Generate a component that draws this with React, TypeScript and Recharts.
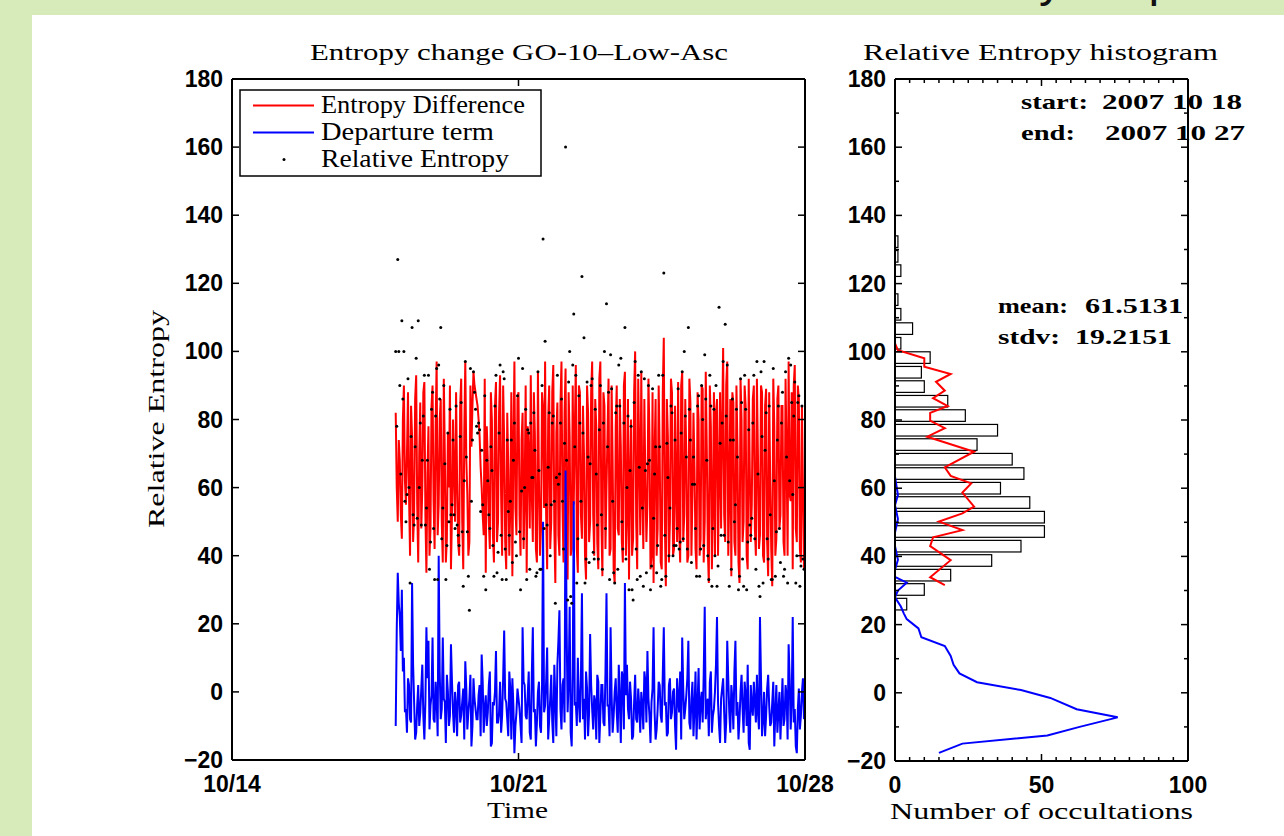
import React from "react";
import { ComposedChart, Line, Scatter, Bar, XAxis, YAxis } from "recharts";

// occultations from 10/18 (day 4 after 10/14), even cadence;
// the "A" arrays hold the samples on the full step, the "B" arrays the ones half a step later
const START_DAY = 4;
const STEP_DAY = 0.05;

const entropyDiffA = [
  82, 50, 68, 45, 90, 55, 88, 40, 75, 52,
  93, 38, 85, 60, 91, 35, 78, 48, 90, 42,
  97, 55, 86, 38, 70, 45, 60, 36, 80, 50,
  62, 40, 92, 36, 97, 58, 44, 72, 94, 88,
  84, 75, 60, 46, 35, 68, 42, 80, 38, 91,
  50, 93, 40, 74, 36, 66, 55, 34, 97, 46,
  88, 40, 82, 58, 35, 70, 93, 44, 76, 38,
  62, 48, 83, 97, 36, 90, 50, 96, 32, 85,
  40, 97, 38, 95, 33, 75, 42, 55, 96, 35,
  88, 45, 70, 33, 82, 50, 97, 40, 78, 36,
  97, 34, 84, 60, 92, 42, 68, 32, 90, 46,
  72, 38, 94, 52, 33, 80, 45, 100, 36, 70,
  94, 42, 62, 55, 75, 40, 32, 86, 48, 70,
  36, 104, 31, 75, 50, 88, 42, 60, 91, 38,
  94, 52, 70, 40, 85, 58, 66, 36, 80, 45,
  89, 50, 72, 32, 78, 55, 40, 86, 62, 48,
  101, 44, 97, 58, 34, 85, 40, 72, 32, 80,
  50, 84, 36, 66, 55, 90, 40, 70, 46, 88,
  38, 89, 34, 62, 31, 78, 45, 90, 52, 84,
  40, 70, 97, 56, 36, 96, 44, 86, 38, 60,
];
const entropyDiffB = [
  60, 74, 52, 80, 62, 70, 58, 84, 44, 86,
  55, 70, 48, 88, 52, 64, 40, 84, 56, 78,
  46, 80, 50, 92, 38, 76, 90, 52, 64, 88,
  44, 84, 50, 76, 68, 40, 90, 84, 90, 86,
  80, 66, 52, 92, 78, 50, 88, 46, 84, 44,
  82, 58, 90, 44, 82, 40, 88, 72, 54, 86,
  52, 74, 42, 90, 78, 48, 58, 88, 42, 94,
  40, 88, 54, 52, 80, 42, 88, 48, 76, 46,
  84, 54, 82, 48, 88, 40, 90, 76, 42, 90,
  52, 84, 40, 90, 44, 88, 52, 86, 44, 92,
  50, 88, 42, 76, 40, 90, 36, 78, 48, 86,
  44, 90, 40, 86, 62, 40, 88, 50, 92, 46,
  58, 86, 44, 92, 36, 88, 70, 40, 90, 38,
  88, 50, 86, 38, 92, 40, 84, 44, 48, 90,
  44, 86, 38, 92, 40, 82, 42, 88, 40, 90,
  38, 94, 42, 90, 36, 88, 82, 40, 88, 78,
  52, 90, 40, 86, 88, 44, 90, 38, 92, 44,
  90, 40, 92, 44, 86, 48, 92, 42, 90, 40,
  84, 44, 88, 42, 92, 40, 86, 48, 84, 44,
  92, 40, 58, 88, 90, 48, 90, 42, 84, 36,
];

const departureA = [
  -10, 35, 22, 30, 10, -5, 4, -8, 32, -3,
  -12, 2, -6, 8, -14, 19, 15, -4, 16, -9,
  -2, 40, -8, 16, -3, 5, -10, 14, -6, 0,
  -13, 3, -7, 1, 9, -11, -2, -16, 4, -5,
  -8, 2, 11, -12, -1, -6, 6, -15, -4, 12,
  -9, 3, -7, 18, -3, -13, 1, 4, -18, -6,
  -2, -10, 19, 2, -8, 6, -14, 19, -5, -9,
  3, -12, 50, -4, 13, -8, 5, -15, -2, 8,
  24, -11, 4, 65, -6, 25, -16, 56, -3, 10,
  -9, 29, -2, 6, -13, 17, -5, -1, -14, 3,
  -7, 2, -10, 29, -4, 19, -12, 0, -6, 8,
  -15, 4, 32, 8, -8, -2, -13, 5, -9, -4,
  0, -11, 3, 12, -7, -3, 19, -14, -5, 2,
  -9, 19, -3, -12, 4, -6, 1, -17, -2, 6,
  16, -8, -1, 15, -11, 3, -5, -14, 7, -3,
  -9, 25, -4, -13, 6, -7, 0, 22, -10, -2,
  4, -15, 15, -6, 2, -11, 15, -3, -8, 5,
  -12, -1, 8, -17, -4, 3, -9, -6, 22, -13,
  0, -7, 5, -10, -3, -16, 2, -6, -14, 4,
  -8, -1, 14, -11, 22, -5, -18, 1, -7, 4,
];
const departureB = [
  18, 26, 12, 6, -6, -12, 2, -9, 8, -14,
  -4, -10, 1, -7, -3, 4, -11, -1, -8, 3,
  -13, 6, -5, -2, -15, 0, -7, 3, -12, -4,
  2, -9, -3, -14, 1, -6, 5, -10, -2, -8,
  -1, -13, 3, -5, -10, 2, -16, -3, 0, -9,
  -6, -12, 4, -2, -8, 6, -14, -4, -10, 1,
  -5, -15, 3, -7, -1, -12, 5, -6, -16, 0,
  -10, 2, -6, 3, -14, -2, -9, 8, -13, 15,
  -5, 2, -9, 20, 3, -12, 6, -4, -10, -3,
  4, -8, -14, 1, -6, 2, -11, -3, 5, -15,
  2, -9, 6, -4, -13, -1, -7, 4, -12, -2,
  6, -11, -1, -5, 3, -14, -3, -8, 1, -12,
  -4, 6, -9, -2, -15, 1, -6, -11, 3, -7,
  5, -4, -13, 2, -8, 0, -10, 4, -6, -14,
  1, -5, 4, -9, -2, -13, 6, -4, -11, 0,
  5, -8, -2, 3, -12, -5, 8, -3, -15, 1,
  -6, -9, 4, -12, -2, 6, -7, -14, 0, -5,
  3, -10, -15, 2, -7, -3, 5, -11, 4, -8,
  -13, 1, -4, -9, 3, -6, -12, 0, -5, -10,
  2, -14, 4, -3, -9, -16, -5, -11, 0, -8,
];

const relEntropyA = [
  100, 127, 90, 109, 100, 50, 92, 32, 107, 49,
  98, 109, 79, 68, 93, 54, 93, 44, 88, 33,
  95, 96, 107, 54, 67, 43, 50, 52, 74, 48,
  49, 43, 85, 31, 97, 47, 24, 56, 94, 83,
  76, 77, 71, 34, 30, 62, 48, 65, 34, 93,
  41, 96, 33, 92, 33, 53, 56, 38, 79, 40,
  98, 30, 95, 60, 33, 76, 79, 63, 71, 35,
  65, 36, 133, 103, 49, 82, 55, 81, 26, 93,
  64, 86, 42, 160, 27, 100, 26, 111, 93, 45,
  79, 122, 104, 39, 69, 67, 92, 39, 64, 39,
  90, 36, 100, 114, 88, 99, 56, 32, 84, 96,
  98, 42, 107, 60, 30, 78, 27, 97, 33, 66,
  94, 31, 65, 67, 68, 37, 51, 72, 43, 72,
  33, 123, 34, 63, 54, 82, 43, 43, 89, 44,
  94, 100, 69, 107, 74, 61, 61, 34, 87, 42,
  80, 99, 68, 33, 84, 48, 40, 31, 113, 46,
  97, 108, 96, 31, 36, 74, 55, 69, 34, 85,
  31, 83, 44, 49, 51, 93, 36, 64, 28, 75,
  97, 82, 39, 52, 33, 62, 47, 84, 38, 88,
  36, 69, 98, 96, 58, 91, 40, 87, 37, 39,
];
const relEntropyB = [
  78, 100, 64, 86, 56, 58, 60, 75, 52, 72,
  51, 60, 49, 81, 49, 68, 36, 83, 48, 81,
  33, 86, 45, 90, 33, 76, 83, 55, 52, 84,
  46, 75, 47, 62, 69, 34, 95, 74, 88, 78,
  79, 53, 55, 87, 68, 52, 72, 43, 84, 35,
  76, 46, 94, 42, 74, 46, 74, 68, 44, 87,
  47, 59, 45, 83, 77, 36, 63, 82, 34, 94,
  36, 90, 48, 55, 66, 40, 79, 56, 63, 61,
  79, 56, 73, 68, 91, 28, 96, 72, 32, 87,
  56, 76, 32, 91, 38, 90, 41, 83, 49, 77,
  52, 79, 48, 72, 33, 89, 35, 82, 36, 84,
  50, 79, 39, 81, 65, 30, 85, 42, 93, 34,
  54, 92, 35, 90, 30, 89, 64, 35, 93, 31,
  93, 46, 73, 40, 84, 40, 74, 48, 42, 76,
  45, 81, 42, 83, 38, 69, 48, 84, 34, 90,
  43, 86, 40, 93, 31, 83, 90, 37, 73, 79,
  46, 81, 44, 74, 86, 50, 83, 30, 92, 39,
  93, 30, 77, 46, 79, 45, 97, 31, 94, 32,
  71, 45, 84, 33, 95, 34, 74, 48, 79, 34,
  94, 32, 62, 85, 81, 32, 85, 31, 84, 36,
];

const timeTicks = [0, 7, 14];
const timeTickLabels = ["10/14", "10/21", "10/28"];
const entropyTicks = [-20, 0, 20, 40, 60, 80, 100, 120, 140, 160, 180];

// histogram of relative entropy (bin centre, count)
const binCenters = [
  26.0, 30.3, 34.5, 38.8, 43.0, 47.3, 51.5, 55.8, 60.0, 64.3, 68.5, 72.8, 77.0,
  81.3, 85.5, 89.8, 94.0, 98.3, 102.5, 106.8, 111.0, 115.3, 119.5, 123.8, 128.0, 132.3,
];
const binCounts = [
  4, 10, 19, 33, 43, 51, 51, 46, 36, 44, 40, 28, 35,
  24, 18, 10, 9, 12, 2, 6, 2, 1, 0, 2, 1, 1,
];

// histogram curves of entropy difference and departure term
const diffHistV = [
  102.5, 100.5, 98.1, 95.6, 93.5, 91.2, 88.6, 86.4, 84.1, 82.1, 79.8, 77.6, 75.1, 70.7,
  66.1, 63.6, 61.4, 58.7, 54.6, 52.6, 50.2, 47.7, 45.6, 43.0, 38.9, 33.9, 31.6,
];
const diffHistN = [
  0, 1, 10, 10, 19, 14, 17, 13, 18, 12, 12, 17, 11, 27,
  17, 19, 26, 23, 27, 23, 15, 23, 13, 12, 19, 12, 17,
];
const depHistV = [
  63.4, 58, 55, 51, 47, 43, 39, 36, 34, 32.3, 30, 28, 25.3, 23.3, 21.6, 18.9, 16.3,
  13.7, 10.8, 8.2, 5.7, 3.1, 0.8, -1.5, -4.8, -7.2, -10, -12.5, -14.9, -17.6,
];
const depHistN = [
  0, 1, 0, 1, 0, 0, 1, 0, 0, 4, 1, 0, 2, 3, 4, 8, 9,
  17, 19, 20, 22, 28, 43, 53, 62, 76, 63, 52, 23, 15,
];

const histYTicks = [-20, -10, 0, 10, 20, 30, 40, 50, 60, 70, 80, 90, 100, 110, 120, 130, 140, 150, 160, 170, 180];
const countTicks = [0, 5, 10, 15, 20, 25, 30, 35, 40, 45, 50, 55, 60, 65, 70, 75, 80, 85, 90, 95, 100];

const SANS = '"Liberation Sans", Arial, sans-serif';
const SERIF = '"Liberation Serif", "Times New Roman", serif';
const RED = "#ff0000";
const BLUE = "#0000ff";

const rows: { t: number; diff: number; dep: number; rel: number }[] = [];
entropyDiffA.forEach((d, i) => {
  rows.push({ t: START_DAY + i * STEP_DAY, diff: d, dep: departureA[i], rel: relEntropyA[i] });
  rows.push({
    t: START_DAY + (i + 0.5) * STEP_DAY,
    diff: entropyDiffB[i],
    dep: departureB[i],
    rel: relEntropyB[i],
  });
});
const histRows = binCenters.map((v, i) => ({ v, n: binCounts[i] }));
const diffHist = diffHistV.map((v, i) => ({ v, n: diffHistN[i] }));
const depHist = depHistV.map((v, i) => ({ v, n: depHistN[i] }));

const fmtNum = (v: number) => (v < 0 ? "\u2212" + Math.abs(v) : String(v));

type Side = "bottom" | "top" | "left" | "right";

function makeTick(side: Side, label: ((v: number) => string) | null, majorEvery: number | null) {
  return function Tick(props: any) {
    const { x, y, payload } = props;
    const v = payload.value as number;
    const major = majorEvery === null || Math.abs(v / majorEvery - Math.round(v / majorEvery)) < 1e-6;
    const len = major ? 7 : 4;
    let line;
    if (side === "bottom") line = <line x1={x} y1={y} x2={x} y2={y - len} />;
    else if (side === "top") line = <line x1={x} y1={y} x2={x} y2={y + len} />;
    else if (side === "left") line = <line x1={x} y1={y} x2={x + len} y2={y} />;
    else line = <line x1={x} y1={y} x2={x - len} y2={y} />;
    let text = null;
    if (label && major) {
      const s = label(v);
      if (side === "bottom")
        text = (
          <text x={x} y={y + 32} textAnchor="middle" fontFamily={SANS} fontWeight="bold" fontSize={23} fill="#000">
            {s}
          </text>
        );
      else if (side === "left")
        text = (
          <text x={x - 9} y={y + 8} textAnchor="end" fontFamily={SANS} fontWeight="bold" fontSize={23} fill="#000">
            {s}
          </text>
        );
    }
    return (
      <g>
        <g stroke="#000" strokeWidth={1.5}>{line}</g>
        {text}
      </g>
    );
  };
}

const axisLine = { stroke: "#000", strokeWidth: 2 };

function HistBar(props: any) {
  const { x, y, width, height, payload } = props;
  if (!payload || !payload.n) return null;
  const cy = y + (height || 0) / 2;
  return <rect x={x} y={cy - 5.8} width={width} height={11.6} fill="#fff" stroke="#000" strokeWidth={1.2} />;
}

function TimeSeriesChart() {
  return (
    <ComposedChart
      width={860}
      height={836}
      data={rows}
      margin={{ top: 78, right: 50, bottom: 36, left: 172 }}
    >
      <XAxis
        xAxisId="b"
        dataKey="t"
        type="number"
        domain={[0, 14]}
        ticks={timeTicks}
        interval={0}
        allowDataOverflow
        height={40}
        tickSize={0}
        tickMargin={0}
        axisLine={axisLine}
        tickLine={false}
        tick={makeTick("bottom", (v) => timeTickLabels[timeTicks.indexOf(v)], null)}
      />
      <XAxis
        xAxisId="t"
        dataKey="t"
        type="number"
        orientation="top"
        domain={[0, 14]}
        ticks={timeTicks}
        interval={0}
        allowDataOverflow
        height={1}
        tickSize={0}
        tickMargin={0}
        axisLine={axisLine}
        tickLine={false}
        tick={makeTick("top", null, null)}
      />
      <YAxis
        yAxisId="l"
        type="number"
        domain={[-20, 180]}
        ticks={entropyTicks}
        interval={0}
        allowDataOverflow
        width={60}
        tickSize={0}
        tickMargin={0}
        axisLine={axisLine}
        tickLine={false}
        tick={makeTick("left", fmtNum, null)}
      />
      <YAxis
        yAxisId="r"
        orientation="right"
        type="number"
        domain={[-20, 180]}
        ticks={entropyTicks}
        interval={0}
        allowDataOverflow
        width={5}
        tickSize={0}
        tickMargin={0}
        axisLine={axisLine}
        tickLine={false}
        tick={makeTick("right", null, null)}
      />
      <Line
        xAxisId="b"
        yAxisId="l"
        dataKey="diff"
        stroke={RED}
        strokeWidth={2}
        dot={false}
        isAnimationActive={false}
      />
      <Line
        xAxisId="b"
        yAxisId="l"
        dataKey="dep"
        stroke={BLUE}
        strokeWidth={2}
        dot={false}
        isAnimationActive={false}
      />
      <Scatter
        xAxisId="b"
        yAxisId="l"
        dataKey="rel"
        isAnimationActive={false}
        shape={(p: any) => <circle cx={p.cx} cy={p.cy} r={1.5} fill="#000" />}
      />
    </ComposedChart>
  );
}

function HistogramChart() {
  return (
    <ComposedChart
      layout="vertical"
      width={454}
      height={836}
      data={histRows}
      margin={{ top: 78, right: 91, bottom: 35, left: 5 }}
    >
      <XAxis
        xAxisId="b"
        type="number"
        domain={[0, 100]}
        ticks={countTicks}
        interval={0}
        allowDataOverflow
        height={40}
        tickSize={0}
        tickMargin={0}
        axisLine={axisLine}
        tickLine={false}
        tick={makeTick("bottom", fmtNum, 50)}
      />
      <XAxis
        xAxisId="t"
        type="number"
        orientation="top"
        domain={[0, 100]}
        ticks={countTicks}
        interval={0}
        allowDataOverflow
        height={1}
        tickSize={0}
        tickMargin={0}
        axisLine={axisLine}
        tickLine={false}
        tick={makeTick("top", null, 50)}
      />
      <YAxis
        yAxisId="l"
        dataKey="v"
        type="number"
        reversed
        domain={[-20, 180]}
        ticks={histYTicks}
        interval={0}
        allowDataOverflow
        width={60}
        tickSize={0}
        tickMargin={0}
        axisLine={axisLine}
        tickLine={false}
        tick={makeTick("left", fmtNum, 20)}
      />
      <YAxis
        yAxisId="r"
        dataKey="v"
        orientation="right"
        type="number"
        reversed
        domain={[-20, 180]}
        ticks={histYTicks}
        interval={0}
        allowDataOverflow
        width={5}
        tickSize={0}
        tickMargin={0}
        axisLine={axisLine}
        tickLine={false}
        tick={makeTick("right", null, 20)}
      />
      <Bar
        xAxisId="b"
        yAxisId="l"
        dataKey="n"
        shape={HistBar}
        isAnimationActive={false}
      />
      <Line
        xAxisId="b"
        yAxisId="l"
        data={diffHist}
        dataKey="n"
        stroke={RED}
        strokeWidth={2}
        dot={false}
        isAnimationActive={false}
      />
      <Line
        xAxisId="b"
        yAxisId="l"
        data={depHist}
        dataKey="n"
        stroke={BLUE}
        strokeWidth={2}
        dot={false}
        isAnimationActive={false}
      />
    </ComposedChart>
  );
}

function Overlay() {
  const serif = { fontFamily: SERIF, fill: "#000" };
  const bold = { fontFamily: SERIF, fontWeight: "bold" as const, fontSize: 22, fill: "#000" };
  return (
    <svg width={1284} height={836} style={{ position: "absolute", left: 0, top: 0, pointerEvents: "none" }}>
      <text x={823} y={-4} fontFamily={SANS} fontSize={48} fill="#111">
        Case study: September
      </text>
      <rect x={32} y={15} width={1252} height={20} fill="#fff" />

      <text x={310} y={60} fontSize={23} textLength={418} lengthAdjust="spacingAndGlyphs" {...serif}>
        Entropy change GO-10–Low-Asc
      </text>
      <text x={863} y={60} fontSize={23} textLength={355} lengthAdjust="spacingAndGlyphs" {...serif}>
        Relative Entropy histogram
      </text>

      <rect x={240} y={90} width={301} height={86} fill="#fff" stroke="#000" strokeWidth={1.5} />
      <line x1={253} y1={105.5} x2={314} y2={105.5} stroke={RED} strokeWidth={1.8} />
      <line x1={253} y1={132.5} x2={314} y2={132.5} stroke={BLUE} strokeWidth={1.8} />
      <circle cx={284} cy={159.5} r={1.5} fill="#000" />
      <text x={321} y={113} fontSize={25} textLength={204} lengthAdjust="spacingAndGlyphs" {...serif}>
        Entropy Difference
      </text>
      <text x={321} y={140} fontSize={25} textLength={173} lengthAdjust="spacingAndGlyphs" {...serif}>
        Departure term
      </text>
      <text x={321} y={167} fontSize={25} textLength={188} lengthAdjust="spacingAndGlyphs" {...serif}>
        Relative Entropy
      </text>

      <text
        transform="translate(164,419) rotate(-90)"
        textAnchor="middle"
        fontSize={23}
        textLength={218}
        lengthAdjust="spacingAndGlyphs"
        {...serif}
      >
        Relative Entropy
      </text>
      <text x={487} y={818} fontSize={23} textLength={61} lengthAdjust="spacingAndGlyphs" {...serif}>
        Time
      </text>
      <text x={890} y={819} fontSize={23} textLength={303} lengthAdjust="spacingAndGlyphs" {...serif}>
        Number of occultations
      </text>

      <text x={1021} y={109} textLength={67} lengthAdjust="spacingAndGlyphs" {...bold}>start:</text>
      <text x={1102} y={109} textLength={140} lengthAdjust="spacingAndGlyphs" {...bold}>2007 10 18</text>
      <text x={1021} y={140} textLength={54} lengthAdjust="spacingAndGlyphs" {...bold}>end:</text>
      <text x={1105} y={140} textLength={140} lengthAdjust="spacingAndGlyphs" {...bold}>2007 10 27</text>
      <text x={998} y={313} textLength={70} lengthAdjust="spacingAndGlyphs" {...bold}>mean:</text>
      <text x={1085} y={313} textLength={98} lengthAdjust="spacingAndGlyphs" {...bold}>61.5131</text>
      <text x={998} y={344} textLength={62} lengthAdjust="spacingAndGlyphs" {...bold}>stdv:</text>
      <text x={1075} y={344} textLength={97} lengthAdjust="spacingAndGlyphs" {...bold}>19.2151</text>
    </svg>
  );
}

export default function App() {
  return (
    <div style={{ position: "absolute", left: 0, top: 0, width: 1284, height: 836, background: "#d7eab9", overflow: "hidden" }}>
      <div style={{ position: "absolute", left: 32, top: 15, right: 0, bottom: 0, background: "#fff" }} />
      <div style={{ position: "absolute", left: 0, top: 0 }}>
        <TimeSeriesChart />
      </div>
      <div style={{ position: "absolute", left: 830, top: 0 }}>
        <HistogramChart />
      </div>
      <Overlay />
    </div>
  );
}
